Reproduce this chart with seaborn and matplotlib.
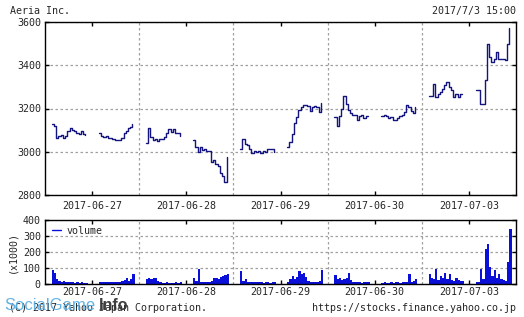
import numpy as np
import pandas as pd
import matplotlib
matplotlib.use("Agg")
import matplotlib.pyplot as plt
import seaborn as sns
from matplotlib.lines import Line2D

# ---------------- data (10-minute samples, 9:00-11:30 and 12:30-15:00) ----------------
days = ["2017-06-27", "2017-06-28", "2017-06-29", "2017-06-30", "2017-07-03"]

p0627_am = [3130, 3120, 3065, 3075, 3078, 3062, 3075, 3095, 3110, 3100, 3095, 3088, 3082, 3095, 3080, 3078]
p0627_pm = [3085, 3075, 3070, 3072, 3065, 3062, 3058, 3055, 3055, 3055, 3065, 3085, 3095, 3110, 3115, 3130]
p0628_am = [3041, 3108, 3069, 3054, 3057, 3050, 3057, 3061, 3070, 3085, 3103, 3092, 3103, 3085, 3087, 3072]
p0628_pm = [3054, 3023, 3000, 3023, 3010, 3015, 3005, 3002, 2953, 2960, 2945, 2935, 2900, 2890, 2861, 2974]
p0629_am = [3015, 3061, 3038, 3030, 3015, 2992, 3004, 3000, 3004, 2992, 3004, 3000, 3012, 3012, 3012, 3000]
p0629_pm = [3023, 3046, 3084, 3131, 3160, 3195, 3205, 3218, 3215, 3210, 3190, 3205, 3212, 3205, 3185, 3225]
p0630_am = [3161, 3118, 3165, 3200, 3257, 3223, 3195, 3177, 3172, 3170, 3146, 3165, 3172, 3158, 3165, 3165]
p0630_pm = [3165, 3169, 3165, 3158, 3160, 3146, 3145, 3158, 3165, 3169, 3185, 3215, 3205, 3190, 3180, 3207]
p0703_am = [3257, 3257, 3315, 3254, 3266, 3277, 3292, 3308, 3323, 3300, 3285, 3254, 3269, 3254, 3269, 3269]
p0703_pm = [3285, 3285, 3223, 3223, 3331, 3497, 3438, 3415, 3431, 3462, 3431, 3431, 3431, 3423, 3500, 3574]

v0627_am = [90, 70, 30, 20, 15, 20, 15, 10, 10, 12, 8, 10, 8, 10, 8, 8]
v0627_pm = [10, 12, 10, 10, 15, 12, 10, 15, 12, 15, 20, 25, 40, 20, 30, 65]
v0628_am = [30, 40, 30, 35, 40, 20, 12, 8, 8, 10, 6, 8, 8, 10, 8, 12]
v0628_pm = [40, 20, 95, 15, 12, 10, 15, 12, 20, 35, 40, 30, 45, 50, 55, 60]
v0629_am = [80, 20, 30, 15, 12, 10, 10, 12, 15, 10, 8, 10, 12, 8, 10, 10]
v0629_pm = [15, 30, 50, 30, 45, 80, 65, 70, 45, 20, 15, 12, 15, 12, 20, 85]
v0630_am = [55, 30, 40, 25, 30, 40, 70, 25, 15, 12, 10, 12, 8, 10, 15, 10]
v0630_pm = [8, 10, 8, 6, 10, 8, 10, 12, 8, 10, 12, 15, 60, 15, 20, 30]
v0703_am = [60, 40, 30, 95, 25, 50, 35, 70, 30, 60, 25, 20, 40, 25, 20, 20]
v0703_pm = [10, 15, 95, 30, 220, 250, 105, 50, 90, 40, 60, 30, 25, 20, 140, 345]

price_sessions = [p0627_am, p0627_pm, p0628_am, p0628_pm, p0629_am, p0629_pm,
                  p0630_am, p0630_pm, p0703_am, p0703_pm]
vol_sessions = [v0627_am, v0627_pm, v0628_am, v0628_pm, v0629_am, v0629_pm,
                v0630_am, v0630_pm, v0703_am, v0703_pm]

# day axis runs 8:30 -> 15:30 (420 minutes) per trading day
rows = []
for s, (pr, vo) in enumerate(zip(price_sessions, vol_sessions)):
    d = s // 2
    start = 30 if s % 2 == 0 else 240
    for i, (p, v) in enumerate(zip(pr, vo)):
        rows.append({"session": s, "x": d + (start + 10 * i) / 420.0,
                     "xc": d + (start + 10 * i + 5) / 420.0, "price": p, "vol": v})
df = pd.DataFrame(rows)

step = 10 / 420.0

# ---------------- figure ----------------
sns.set_theme(style="white")
plt.rcParams["font.family"] = ["DejaVu Sans Mono", "DejaVu Sans"]
plt.rcParams["font.size"] = 7.2

W, H = 524, 317
fig = plt.figure(figsize=(W / 100, H / 100), dpi=100)
fig.patch.set_facecolor("white")
ax = fig.add_axes([45 / W, 1 - 195 / H, 471 / W, 173 / H])
axv = fig.add_axes([45 / W, 1 - 284 / H, 471 / W, 64 / H])

line_col = "#14147e"
vol_col = "#0a10d8"
grid_kw = dict(color="#a0a0a0", linestyle=(0, (2, 2)), linewidth=0.9)

sns.lineplot(data=df, x="x", y="price", units="session", estimator=None,
             color=line_col, linewidth=1.0, drawstyle="steps-post", ax=ax, legend=False)

sns.histplot(data=df, x="xc", weights="vol", binwidth=step, binrange=(0, 5),
             color=vol_col, alpha=1.0, linewidth=0, element="bars", ax=axv)

for a in (ax, axv):
    a.set_xlim(0, 5)
    a.set_xticks([0.5, 1.5, 2.5, 3.5, 4.5])
    a.set_xticklabels(days)
    a.set_xticks([1, 2, 3, 4], minor=True)
    a.grid(False)
    a.grid(which="minor", axis="x", **grid_kw)
    a.grid(which="major", axis="y", **grid_kw)
    a.set_xlabel("")
    a.set_ylabel("")
    for sp in a.spines.values():
        sp.set_visible(True)
        sp.set_color("black")
        sp.set_linewidth(1.0)
    a.tick_params(which="major", direction="in", length=3, width=1, color="black",
                  top=True, bottom=True, left=True, right=True,
                  labelbottom=True, labelleft=True, labeltop=False, labelright=False,
                  labelsize=7.2, pad=4)
    a.tick_params(which="minor", length=0)
    a.set_axisbelow(True)
    for lab in a.get_xticklabels():
        lab.set_visible(True)

ax.set_ylim(2800, 3600)
ax.set_yticks([2800, 3000, 3200, 3400, 3600])
axv.set_ylim(0, 400)
axv.set_yticks([0, 100, 200, 300, 400])
ax.tick_params(axis="y", pad=3)
axv.tick_params(axis="y", pad=3)
axv.tick_params(axis="x", pad=2)

axv.legend(handles=[Line2D([0], [0], color=vol_col, lw=1)], labels=["volume"],
           loc="upper left", frameon=False, fontsize=7.2, handlelength=0.9,
           handletextpad=0.6, borderaxespad=0.3, bbox_to_anchor=(0.0, 1.02))

fig.text(12 / W, 1 - 252 / H, "(x1000)", rotation=90, ha="center", va="center", fontsize=7.2)

fig.text(10 / W, 1 - 11 / H, "Aeria Inc.", ha="left", va="center", fontsize=7.2)
fig.text(516 / W, 1 - 11 / H, "2017/7/3 15:00", ha="right", va="center", fontsize=7.2)
fig.text(516 / W, 1 - 308 / H, "https://stocks.finance.yahoo.co.jp", ha="right", va="center", fontsize=7.2)
fig.text(9 / W, 1 - 308 / H, "(C) 2017 Yahoo Japan Corporation.", ha="left", va="center", fontsize=7.2)

# watermark
fig.text(4 / W, 1 - 305 / H, "SocialGame", ha="left", va="center", fontsize=12,
         family=["Liberation Sans", "DejaVu Sans"], color="#5aaee2", alpha=0.95)
fig.text(99 / W, 1 - 305 / H, "Info", ha="left", va="center", fontsize=11.5, fontweight="bold",
         family=["Liberation Sans", "DejaVu Sans"], color="#333333", alpha=0.95)

fig.savefig("out.png", dpi=100)
